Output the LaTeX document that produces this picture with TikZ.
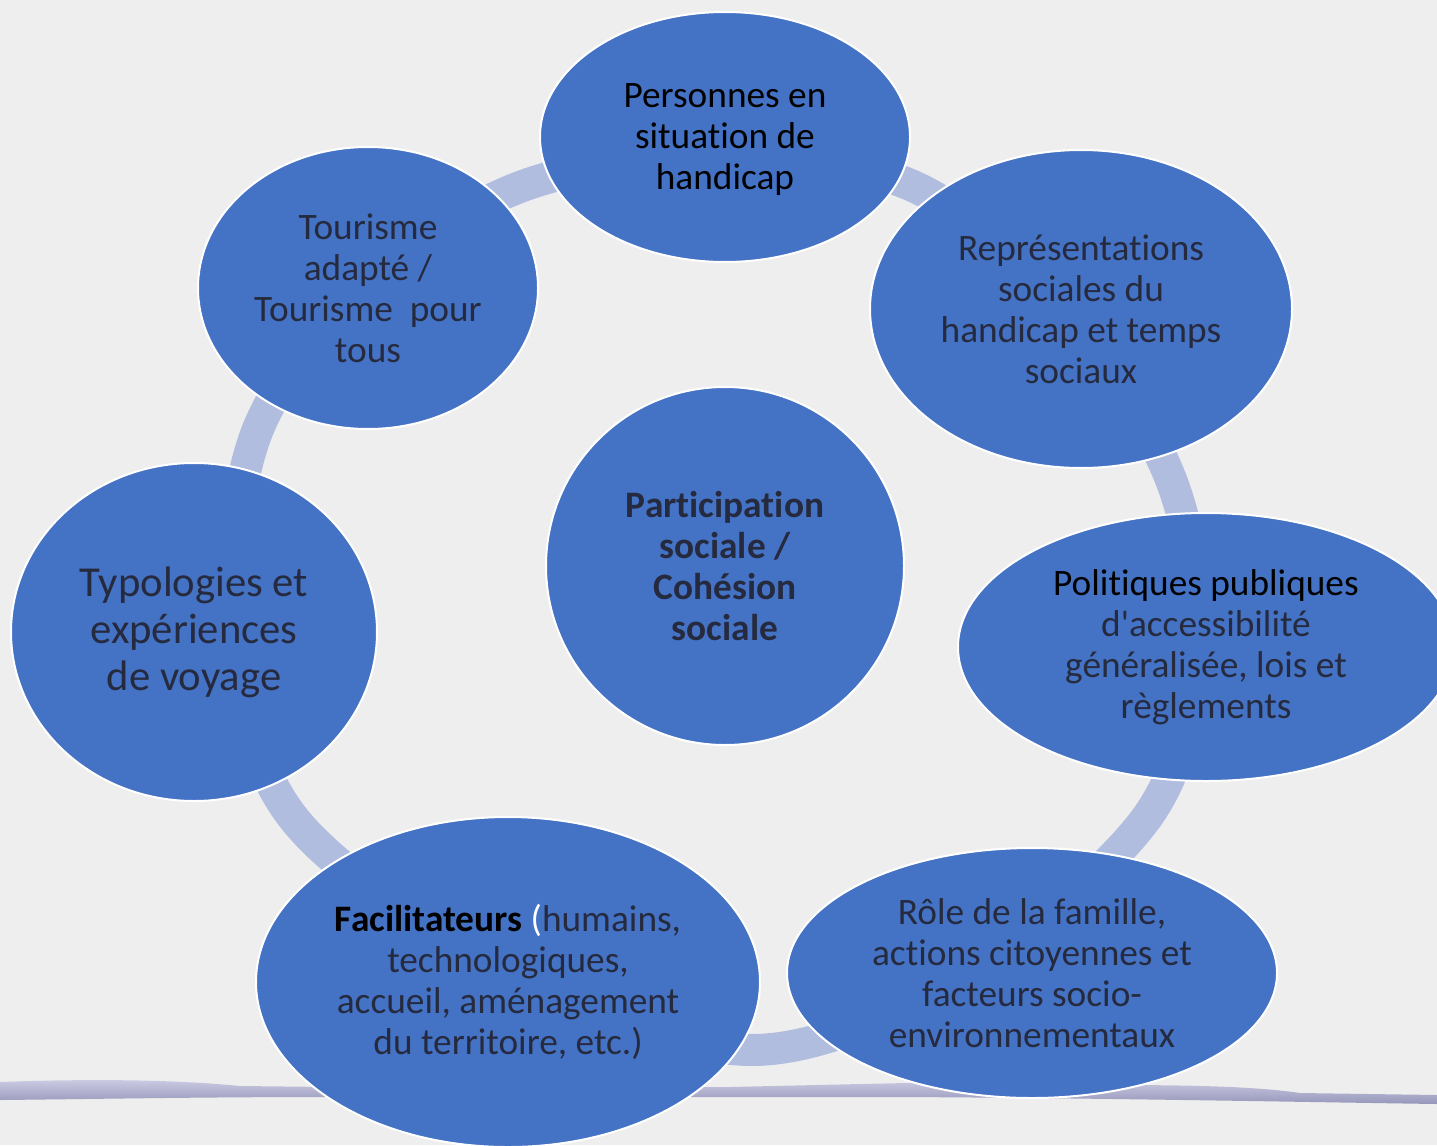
\documentclass[tikz,border=0pt]{standalone}
\usepackage{fontspec}
\setmainfont{Carlito}[Ligatures=NoCommon]
\usetikzlibrary{shapes.geometric}
\definecolor{bgc}{RGB}{238,238,238}
\definecolor{nodeblue}{RGB}{68,114,196}
\definecolor{ringc}{RGB}{177,189,223}
\definecolor{navy}{RGB}{38,42,62}
\definecolor{lineA}{RGB}{204,204,228}
\definecolor{lineB}{RGB}{150,150,186}
\begin{document}
\begin{tikzpicture}[x=0.75pt,y=-0.75pt,
  bubble/.style={ellipse, fill=nodeblue, draw=white, line width=1.5pt, inner sep=0pt},
  lbl/.style={align=center, text=navy, font=\fontsize{28}{30.75}\selectfont, inner sep=0pt},
  biglbl/.style={align=center, text=navy, font=\fontsize{32}{35.25}\selectfont, inner sep=0pt},
]
\useasboundingbox (0,0) rectangle (1437,1145);
\clip (0,0) rectangle (1437,1145);
\fill[bgc] (0,0) rectangle (1437,1145);

% bottom decorative line
\shade[top color=lineA, bottom color=lineB]
  (0,1082) .. controls (80,1079) and (170,1079) .. (240,1086) -- (330,1087) -- (730,1087)
  .. controls (900,1083) and (1000,1081) .. (1110,1079) -- (1114,1085)
  .. controls (1200,1085) and (1260,1087) .. (1300,1093) -- (1437,1095) -- (1437,1104)
  .. controls (1300,1102) and (1100,1098) .. (900,1097) -- (330,1097)
  .. controls (200,1097) and (100,1099) .. (0,1100) -- cycle;

% ring
\draw[ringc, line width=24pt] plot[smooth cycle, tension=0.55] coordinates
  {(520,187) (915,187) (1173,485) (1145,820) (752,1050) (295,820) (255,437)};

% bubbles
\node[bubble, minimum width=277.5pt, minimum height=187.5pt] (pers) at (725,137) {};
\node[bubble, minimum width=316.5pt, minimum height=238.5pt] (repr) at (1081,309) {};
\node[bubble, minimum width=372pt, minimum height=201pt] (poli) at (1206,647) {};
\node[bubble, minimum width=367.5pt, minimum height=187.5pt] (role) at (1032,973) {};
\node[bubble, minimum width=378pt, minimum height=247.5pt] (faci) at (508,982) {};
\node[bubble, minimum width=274.5pt, minimum height=253.5pt] (typo) at (194,632) {};
\node[bubble, minimum width=255pt, minimum height=211.5pt] (tour) at (368,288) {};
\node[bubble, minimum width=268.5pt, minimum height=268.5pt] (part) at (725,566) {};

% labels
\node[lbl, text=black] (pers-t) at ([yshift=-2pt]pers.center) {Personnes en\\situation de\\handicap};
\node[lbl] (repr-t) at (repr.center) {Représentations\\sociales du\\handicap et temps\\sociaux};
\node[lbl] (poli-t) at (poli.center) {{\color{black}Politiques publiques}\\d\textquotesingle accessibilité\\généralisée, lois et\\règlements};
\node[lbl] (role-t) at (role.center) {Rôle de la famille,\\actions citoyennes et\\facteurs socio-\\environnementaux};
\node[lbl] (faci-t) at (faci.center) {{\color{black}\bfseries Facilitateurs} {\color{white}(}humains,\\technologiques,\\accueil, aménagement\\du territoire, etc.)};
\node[biglbl] (typo-t) at (typo.center) {Typologies et\\expériences\\de voyage};
\node[lbl] (tour-t) at (tour.center) {Tourisme\\adapté /\\Tourisme~ pour\\tous};
\node[lbl, font=\fontsize{28}{30.75}\selectfont\bfseries] (part-t) at (part.center) {Participation\\sociale /\\Cohésion\\sociale};
\end{tikzpicture}
\end{document}
